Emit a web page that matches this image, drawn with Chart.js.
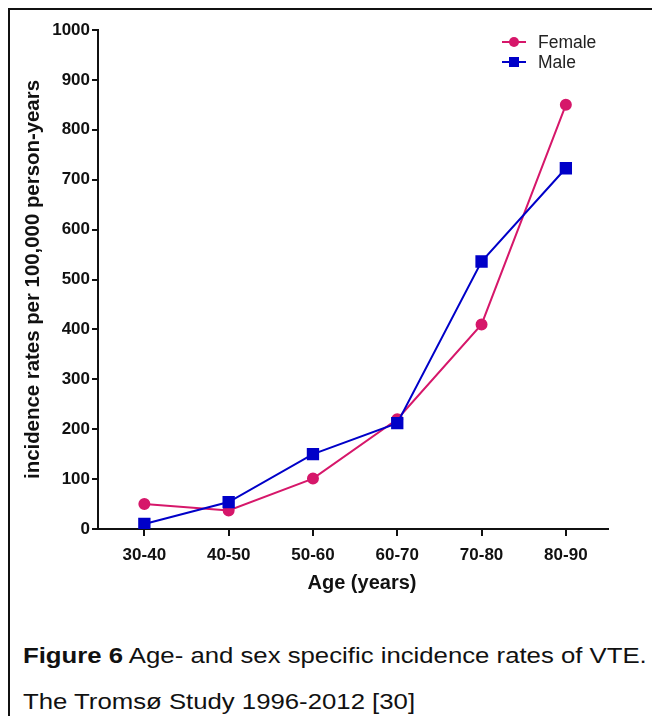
<!DOCTYPE html>
<html><head><meta charset="utf-8">
<script src="https://cdn.jsdelivr.net/npm/chart.js@4.4.1/dist/chart.umd.min.js"></script>
<style>
html,body{margin:0;padding:0;background:#fff;width:652px;height:716px;overflow:hidden;font-family:"Liberation Sans",Arial,sans-serif;}
#frame{position:absolute;left:8px;top:8px;width:700px;height:760px;border-left:2px solid #111;border-top:2px solid #111;}
#wrap{position:absolute;left:0;top:0;width:652px;height:600px;}
.cap{position:absolute;left:23px;font-size:22px;line-height:22px;color:#111;white-space:nowrap;transform:scaleX(1.17);transform-origin:0 0;}
</style></head><body>
<div id="frame"></div>
<div id="wrap"><canvas id="c" width="652" height="600"></canvas></div>
<div class="cap" style="top:645px"><b>Figure 6</b> Age- and sex specific incidence rates of VTE.</div>
<div class="cap" style="top:691px">The Tromsø Study 1996-2012 [30]</div>
<script>
const categories = ["30-40","40-50","50-60","60-70","70-80","80-90"];
const female = [50, 37, 101, 220, 410, 850];
const male = [10, 54, 150, 212, 536, 723];
const yTicks = [0,100,200,300,400,500,600,700,800,900,1000];
const xTitle = 'Age (years)';
const yTitle = 'incidence rates per 100,000 person-years';

const FONT = '"Liberation Sans", Arial, sans-serif';
const femaleColor = '#D6176A';
const maleColor = '#0000C8';

const legendPlugin = {
  id: 'customLegend',
  afterDraw(chart) {
    const ctx = chart.ctx;
    const items = [
      {label: 'Female', color: femaleColor, style: 'circle'},
      {label: 'Male', color: maleColor, style: 'rect'}
    ];
    ctx.save();
    items.forEach((it, i) => {
      const y = 42 + i * 20;
      ctx.strokeStyle = it.color; ctx.lineWidth = 2;
      ctx.beginPath(); ctx.moveTo(502, y); ctx.lineTo(526, y); ctx.stroke();
      ctx.fillStyle = it.color;
      if (it.style === 'circle') { ctx.beginPath(); ctx.arc(514, y, 5, 0, Math.PI*2); ctx.fill(); }
      else { ctx.fillRect(509, y-5, 10, 10); }
      ctx.fillStyle = '#222'; ctx.font = '17.5px ' + FONT; ctx.textBaseline = 'middle';
      ctx.fillText(it.label, 538, y + 1);
    });
    // x axis title
    ctx.fillStyle = '#111'; ctx.font = 'bold 20px ' + FONT; ctx.textAlign = 'center'; ctx.textBaseline = 'middle';
    ctx.fillText(xTitle, 362, 583);
    ctx.restore();
  }
};

new Chart(document.getElementById('c'), {
  type: 'line',
  data: {
    datasets: [
      {label: 'Male', data: male.map((v,i)=>({x:i,y:v})), borderColor: maleColor, backgroundColor: maleColor,
       borderWidth: 2, pointStyle: 'rect', pointRadius: 7.3, pointHoverRadius: 7.3, tension: 0, order: 0},
      {label: 'Female', data: female.map((v,i)=>({x:i,y:v})), borderColor: femaleColor, backgroundColor: femaleColor,
       borderWidth: 2, pointStyle: 'circle', pointRadius: 5, pointHoverRadius: 5, tension: 0, order: 1}
    ]
  },
  options: {
    responsive: false, animation: false, devicePixelRatio: 1,
    layout: {padding: {top: 30, right: 44, left: 0, bottom: 0}},
    plugins: {legend: {display: false}, tooltip: {enabled: false}},
    scales: {
      x: {
        type: 'linear', min: -0.55, max: 5.5,
        afterBuildTicks: s => { s.ticks = categories.map((c,i)=>({value:i})); },
        afterFit: s => { s.height = 71; },
        ticks: {callback: (v) => categories[v] ?? '', color: '#111', font: {family: FONT, size: 17, weight: 'bold'}, padding: 9, maxRotation: 0, autoSkip: false},
        grid: {drawOnChartArea: false, drawTicks: true, tickLength: 7, color: '#111', lineWidth: 2},
        border: {color: '#111', width: 2},
        title: {display: false}
      },
      y: {
        min: 0, max: 1000,
        afterBuildTicks: s => { s.ticks = yTicks.map(v=>({value:v})); },
        afterFit: s => { s.width = 98; },
        ticks: {callback: v => String(v), color: '#111', font: {family: FONT, size: 17, weight: 'bold'}, padding: 2},
        grid: {drawOnChartArea: false, drawTicks: true, tickLength: 6, color: '#111', lineWidth: 2},
        border: {color: '#111', width: 2},
        title: {display: true, text: yTitle, color: '#111', font: {family: FONT, size: 20.4, weight: 'bold'}, padding: {top: 21, bottom: 0}}
      }
    }
  },
  plugins: [legendPlugin]
});
</script>
</body></html>
